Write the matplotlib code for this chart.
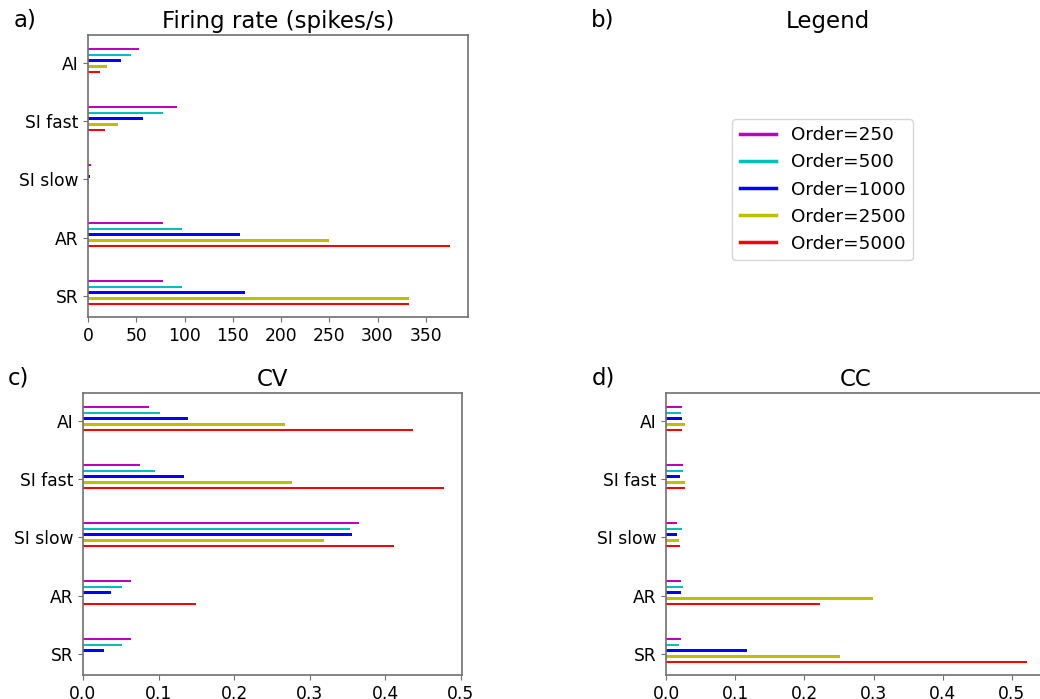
import matplotlib
matplotlib.use("Agg")
import matplotlib.pyplot as plt
import numpy as np

categories = ["SR", "AR", "SI slow", "SI fast", "AI"]
orders = ["Order=250", "Order=500", "Order=1000", "Order=2500", "Order=5000"]
colors = ["m", "c", "b", "y", "r"]

# values per order, per category (SR, AR, SI slow, SI fast, AI)
rate = {
    "Order=250":  [77.5, 77.5, 2.8, 92.5, 52.5],
    "Order=500":  [97.5, 97.5, 1.4, 77.5, 44.5],
    "Order=1000": [163.0, 157.0, 2.0, 56.5, 34.5],
    "Order=2500": [333.0, 249.5, 1.0, 31.5, 20.0],
    "Order=5000": [333.0, 375.0, 0.3, 18.0, 12.0],
}
cv = {
    "Order=250":  [0.063, 0.063, 0.366, 0.0755, 0.088],
    "Order=500":  [0.052, 0.052, 0.354, 0.095, 0.102],
    "Order=1000": [0.028, 0.037, 0.356, 0.134, 0.1387],
    "Order=2500": [0.0, 0.0, 0.319, 0.277, 0.268],
    "Order=5000": [0.0, 0.150, 0.412, 0.478, 0.437],
}
cc = {
    "Order=250":  [0.0212, 0.0212, 0.0159, 0.0246, 0.0227],
    "Order=500":  [0.0188, 0.0246, 0.0227, 0.0246, 0.0212],
    "Order=1000": [0.1176, 0.0212, 0.0159, 0.0203, 0.0227],
    "Order=2500": [0.2517, 0.2994, 0.0188, 0.027, 0.027],
    "Order=5000": [0.5217, 0.2232, 0.0203, 0.027, 0.0236],
}

W, H = 1040, 699
fig = plt.figure(figsize=(W / 100, H / 100), dpi=100)

def box(l, t, r, b):
    return [l / W, 1 - b / H, (r - l) / W, (b - t) / H]

TICK_FS = 12.3
TITLE_FS = 16.5
SPINE_C = "#707070"

def panel(rect, data, title, label, label_xy):
    ax = fig.add_axes(rect)
    y = np.arange(len(categories))
    for k, (o, c) in enumerate(zip(orders, colors)):
        off = 0.25 - 0.1 * k
        ax.barh(y + off, data[o], height=0.042, color=c, linewidth=0)
    ax.set_yticks(y)
    ax.set_yticklabels(categories)
    ax.set_ylim(-0.37, 4.49)
    ax.tick_params(labelsize=TICK_FS, color=SPINE_C)
    for s in ax.spines.values():
        s.set_color(SPINE_C)
        s.set_linewidth(1.2)
    ax.set_title(title, fontsize=TITLE_FS, pad=5)
    fig.text(label_xy[0] / W, 1 - label_xy[1] / H, label, fontsize=TITLE_FS,
             va="center", ha="left")
    return ax

axa = panel(box(88, 35, 468, 317), rate, "Firing rate (spikes/s)", "a)", (14, 20))
axa.set_xticks([0, 50, 100, 150, 200, 250, 300, 350])

axc = panel(box(83, 393, 462, 675), cv, "CV", "c)", (8, 378))
axc.set_xticks([0.0, 0.1, 0.2, 0.3, 0.4, 0.5])

axd = panel(box(666, 393, 1045, 675), cc, "CC", "d)", (592, 378))
axd.set_xticks([0.0, 0.1, 0.2, 0.3, 0.4, 0.5])

# legend panel
axb = fig.add_axes(box(638, 35, 1018, 317))
axb.axis("off")
axb.set_title("Legend", fontsize=TITLE_FS, pad=5)
fig.text(591 / W, 1 - 20 / H, "b)", fontsize=TITLE_FS, va="center", ha="left")
handles = [plt.Line2D([], [], color=c, lw=2.5) for c in colors]
axb.legend(handles, orders, loc="center", fontsize=13.2,
           bbox_to_anchor=(822.5 / W, 1 - 189.5 / H),
           bbox_transform=fig.transFigure, handlelength=2.0)

fig.savefig("out.png", dpi=100)
